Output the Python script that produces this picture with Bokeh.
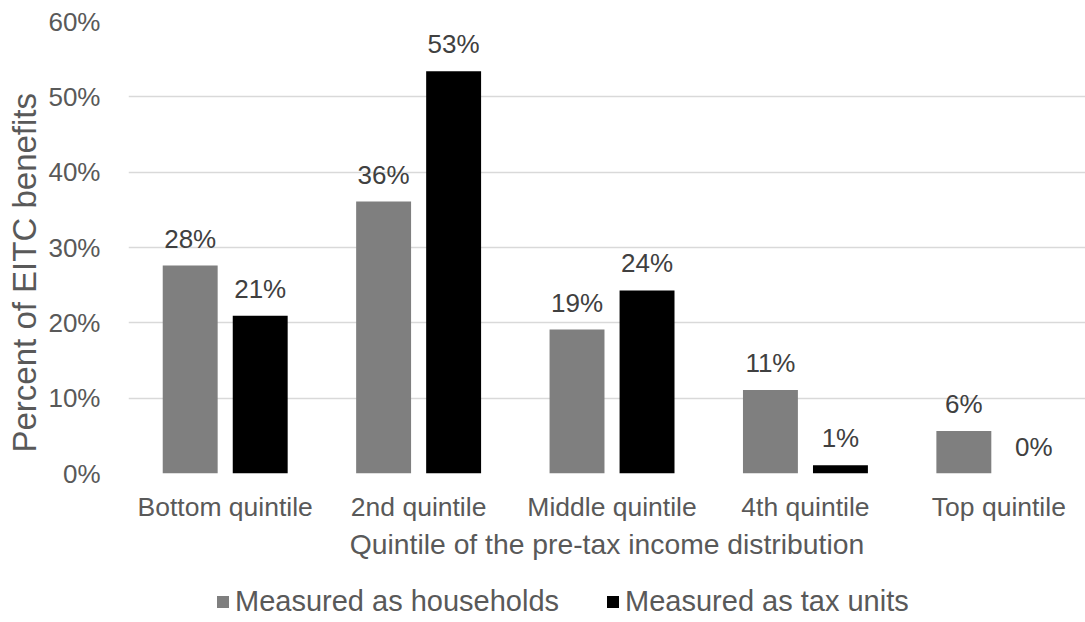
from bokeh.plotting import figure
from bokeh.layouts import column
from bokeh.models import (ColumnDataSource, FixedTicker, Legend, LegendItem,
                          Range1d, LabelSet, Title)
from bokeh.core.properties import value
from bokeh.embed import file_html
from bokeh.resources import INLINE

# Share of EITC benefits by pre-tax income quintile (percent)
quintiles = ["Bottom quintile", "2nd quintile", "Middle quintile",
             "4th quintile", "Top quintile"]
households = [27.6, 36.1, 19.1, 11.1, 5.65]
tax_units = [20.95, 53.4, 24.3, 1.1, 0.0]
y_ticks = [0, 10, 20, 30, 40, 50, 60]
series_names = ["Measured as households", "Measured as tax units"]

FONT = "Liberation Sans"
GRAY = "#7f7f7f"
BLACK = "#000000"
GRID = "#d9d9d9"
AXIS_TEXT = "#595959"
LABEL_TEXT = "#404040"

idx = list(range(len(quintiles)))
offset = 0.181
bar_w = 0.284

src_h = ColumnDataSource(dict(
    x=[i - offset for i in idx], top=households,
    lbl=[f"{round(v)}%" for v in households]))
src_t = ColumnDataSource(dict(
    x=[i + offset for i in idx], top=tax_units,
    lbl=[f"{round(v)}%" for v in tax_units]))

p = figure(width=1085, height=578, output_backend="svg", toolbar_location=None,
           x_range=Range1d(-0.5, 4.448), y_range=Range1d(0, 60),
           min_border_left=128, min_border_right=0, min_border_top=21,
           min_border_bottom=105)
p.outline_line_color = None
p.background_fill_color = "white"
p.border_fill_color = "white"

r_h = p.vbar(x="x", top="top", width=bar_w, source=src_h,
             fill_color=GRAY, line_color=None)
r_t = p.vbar(x="x", top="top", width=bar_w, source=src_t,
             fill_color=BLACK, line_color=None)

for src in (src_h, src_t):
    p.add_layout(LabelSet(x="x", y="top", text="lbl", source=src,
                          text_align="center", text_baseline="alphabetic",
                          y_offset=18, text_font=value(FONT),
                          text_font_size="26px", text_color=LABEL_TEXT))

# y axis
p.yaxis.ticker = FixedTicker(ticks=y_ticks)
p.yaxis.major_label_overrides = {t: f"{t}%" for t in y_ticks}
p.yaxis.axis_line_color = None
p.yaxis.major_tick_line_color = None
p.yaxis.minor_tick_line_color = None
p.yaxis.major_label_standoff = 22
p.yaxis.major_label_text_font = FONT
p.yaxis.major_label_text_font_size = "26px"
p.yaxis.major_label_text_color = AXIS_TEXT

# vertical axis title, anchored near the bottom of the frame
p.add_layout(Title(text="Percent of EITC benefits", align="left",
                   offset=21, standoff=6, text_font=FONT,
                   text_font_size="33px", text_font_style="normal",
                   text_color=AXIS_TEXT), "left")

# x axis
p.xaxis.ticker = FixedTicker(ticks=idx)
p.xaxis.major_label_overrides = {i: q for i, q in zip(idx, quintiles)}
p.xaxis.axis_line_color = None
p.xaxis.major_tick_line_color = None
p.xaxis.minor_tick_line_color = None
p.xaxis.major_label_standoff = 12
p.xaxis.major_label_text_font = FONT
p.xaxis.major_label_text_font_size = "26.5px"
p.xaxis.major_label_text_color = AXIS_TEXT
p.xaxis.axis_label = "Quintile of the pre-tax income distribution"
p.xaxis.axis_label_text_font = FONT
p.xaxis.axis_label_text_font_size = "28.3px"
p.xaxis.axis_label_text_font_style = "normal"
p.xaxis.axis_label_text_color = AXIS_TEXT
p.xaxis.axis_label_standoff = 3

p.xgrid.grid_line_color = None
p.ygrid.ticker = FixedTicker(ticks=y_ticks)
p.ygrid.grid_line_color = GRID
p.ygrid.grid_line_width = 1.5

# legend strip underneath the chart: it repeats the two bar series as hidden
# renderers, so only their legend swatches show
lg = figure(width=1085, height=44, output_backend="svg", toolbar_location=None,
            x_range=Range1d(-0.5, 4.448), y_range=Range1d(0, 60),
            x_axis_location=None, y_axis_location=None,
            min_border_left=0, min_border_right=0, min_border_top=0,
            min_border_bottom=0)
lg.grid.grid_line_color = None
lg.outline_line_color = None
key_h = lg.vbar(x="x", top="top", width=bar_w, source=src_h,
                fill_color=GRAY, line_color=None, visible=False)
key_t = lg.vbar(x="x", top="top", width=bar_w, source=src_t,
                fill_color=BLACK, line_color=None, visible=False)

legend = Legend(items=[LegendItem(label=series_names[0], renderers=[key_h]),
                       LegendItem(label=series_names[1], renderers=[key_t])],
                orientation="horizontal", location=(87, 4),
                glyph_width=15, glyph_height=15, label_standoff=5, spacing=46,
                padding=0, margin=0, border_line_color=None,
                background_fill_alpha=0, inactive_fill_alpha=0,
                label_text_font=FONT, label_text_font_size="29px",
                label_text_color=AXIS_TEXT)
lg.add_layout(legend, "center")

layout = column(p, lg, spacing=0)
open("out.html", "w").write(file_html(layout, INLINE))
